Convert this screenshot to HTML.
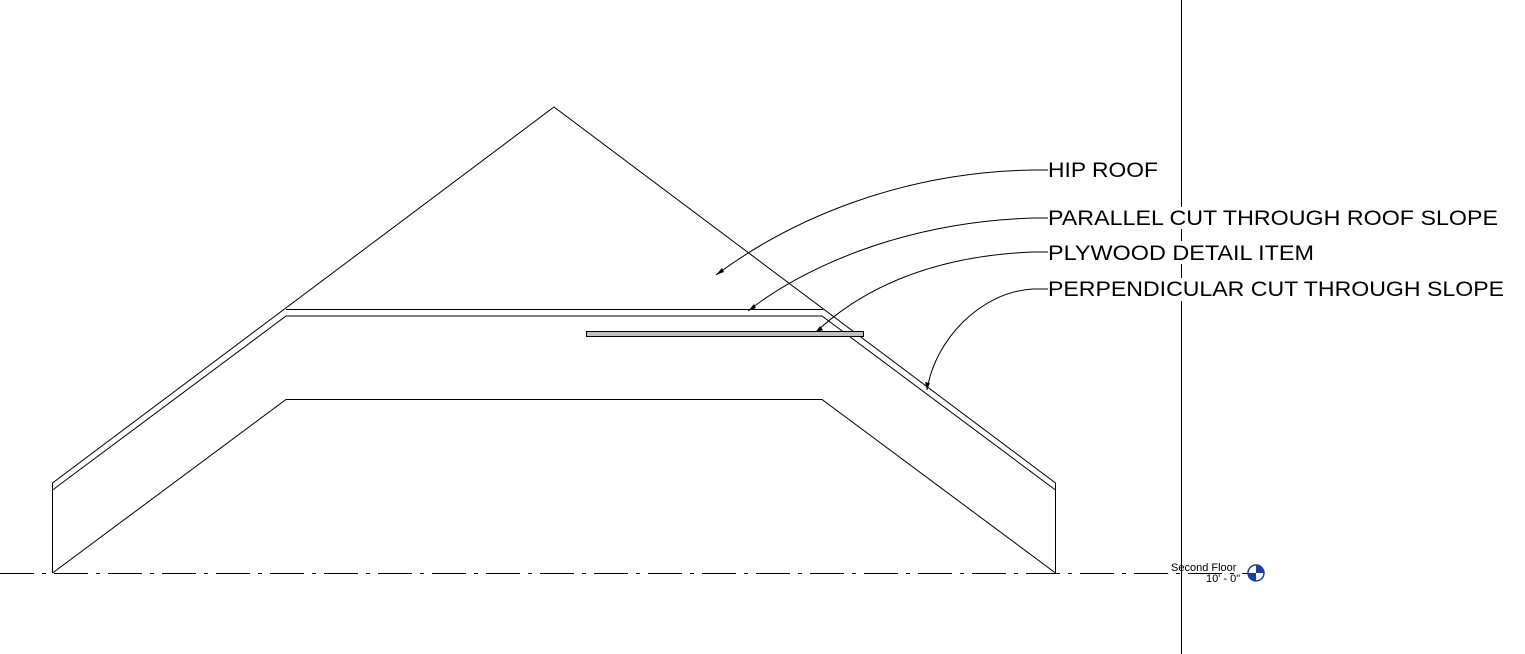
<!DOCTYPE html>
<html><head><style>html,body{margin:0;padding:0;background:#fff;}svg{display:block}</style></head>
<body>
<svg width="1525" height="654" viewBox="0 0 1525 654" xmlns="http://www.w3.org/2000/svg">
<g fill="none" stroke="#000" stroke-width="1">
<line x1="1181.5" y1="0" x2="1181.5" y2="654"/>
<line x1="0" y1="573.5" x2="1248" y2="573.5" stroke-dasharray="34,8,4,8"/>
<polyline points="52.5,573 52.5,483 554,107 1055.5,483 1055.5,573"/>
<polyline points="52.5,490 286,316 822,316 1055.5,490"/>
<line x1="286" y1="309.5" x2="823" y2="309.5"/>
<polyline points="52.5,573 286,399.5 822,399.5 1055.5,573"/>
<path d="M1048,170 L1033,170 C900,172 790,220 716,275"/>
<path d="M1048,218 L1033,218 C900,222 800,270 748,311"/>
<path d="M1048,252 L1033,252 C930,256 860,290 815,333"/>
<path d="M1048,289 L1033,289 C980,292 935,340 927,390"/>
</g>
<g fill="#000">
<polygon points="716,275 722,268 724,272"/>
<polygon points="748,311 754,304 756,308"/>
<polygon points="815,333 820,326 823,330"/>
<polygon points="927,390 925,382 930,383"/>
</g>
<rect x="586.5" y="331.5" width="277" height="5" fill="#c0c0c0" stroke="#000"/>
<g fill="#fff">
<rect x="1176" y="207" width="12" height="22"/>
<rect x="1176" y="241" width="12" height="23"/>
<rect x="1176" y="278" width="12" height="23"/>
</g>
<g font-family="Liberation Sans, sans-serif" font-size="21" fill="#000">
<text x="1048" y="177" textLength="110" lengthAdjust="spacingAndGlyphs">HIP ROOF</text>
<text x="1048" y="225" textLength="450" lengthAdjust="spacingAndGlyphs">PARALLEL CUT THROUGH ROOF SLOPE</text>
<text x="1048" y="260" textLength="266" lengthAdjust="spacingAndGlyphs">PLYWOOD DETAIL ITEM</text>
<text x="1048" y="296" textLength="456" lengthAdjust="spacingAndGlyphs">PERPENDICULAR CUT THROUGH SLOPE</text>
</g>
<g font-family="Liberation Sans, sans-serif" font-size="11" fill="#000">
<text x="1171" y="571">Second Floor</text>
<text x="1206" y="582">10' - 0"</text>
</g>
<circle cx="1256" cy="573" r="8" fill="#fff" stroke="#1a3fa0" stroke-width="1.5"/>
<path d="M1256,573 L1256,565 A8,8 0 0 1 1264,573 Z" fill="#1a3fa0"/>
<path d="M1256,573 L1256,581 A8,8 0 0 1 1248,573 Z" fill="#1a3fa0"/>
</svg>
</body></html>
